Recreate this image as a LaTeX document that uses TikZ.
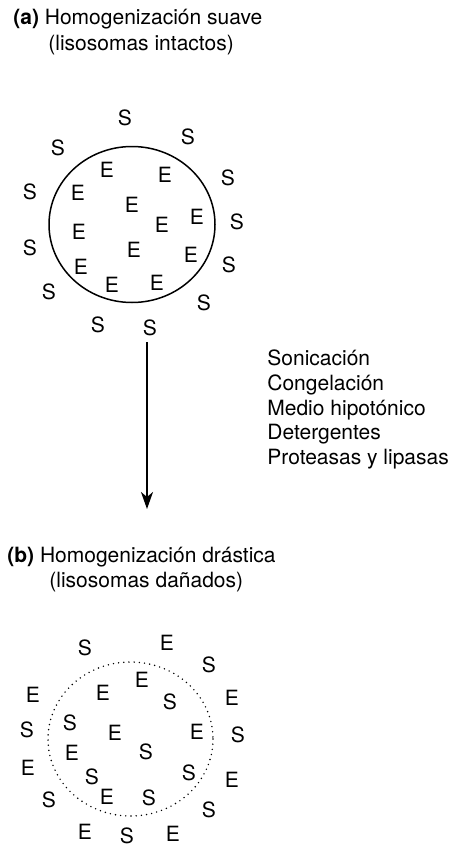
\documentclass[tikz,border=0pt]{standalone}
\usepackage{fontspec}
\setmainfont{TeX Gyre Heros}
\usetikzlibrary{arrows.meta, positioning}
\tikzstyle{texto} = [inner sep=0pt, anchor=base west, font=\fontsize{10.5}{12.5}\selectfont]
\tikzstyle{letra} = [inner sep=0pt, font=\fontsize{10.5}{12.5}\selectfont]
\tikzstyle{membrana} = [line width=0.75pt]
\tikzstyle{rota} = [line width=0.8pt, line cap=round, dash pattern=on 0pt off 2.6pt]
\tikzstyle{flecha} = [line width=0.85pt, -{Stealth[length=8.5pt, width=6pt, inset=2.5pt]}]

\begin{document}
\begin{tikzpicture}[x=0.5pt, y=-0.5pt]
    \useasboundingbox (0,0) rectangle (453,846);
    % (a) lisosomas intactos
    \node[texto] (tituloA) at (13,24.5) {\textbf{(a)} Homogenización suave};
    \node[texto] (subA) at (48,50) {(lisosomas intactos)};
    \draw[membrana] (132,224.5) ellipse [x radius=83, y radius=78];
    \foreach \x/\y [count=\i] in {125/118, 188/137, 58/148, 228/178, 30/192, 237/222,
        30/248, 229/265, 49/292, 204/303, 98/325, 150/328}
        \node[letra] (sA\i) at (\x,\y) {S};
    \foreach \x/\y [count=\i] in {107/170, 165/175, 78/193, 132/205, 197/217, 162/225,
        79/232, 134/250, 191/255, 81/267, 112/285, 157/283}
        \node[letra] (eA\i) at (\x,\y) {E};

    % tratamiento
    \coordinate (inicio) at (147,342);
    \coordinate (fin) at (147,509);
    \draw[flecha] (inicio) -- (fin);
    \foreach \t [count=\i] in {Sonicación, Congelación, Medio hipotónico, Detergentes, Proteasas y lipasas}
        \node[texto] (metodo\i) at (267,{340.75+24.75*\i}) {\t};

    % (b) lisosomas dañados
    \node[texto] (tituloB) at (7,562.5) {\textbf{(b)} Homogenización drástica};
    \node[texto] (subB) at (49,587) {(lisosomas dañados)};
    \draw[rota] (130.5,739) ellipse [x radius=82.5, y radius=77];
    \foreach \x/\y [count=\i] in {85/648, 209/665, 170/702, 70/723, 27/730, 238/735, 146/752,
        92/777, 189/773, 49/800, 149/798, 209/810, 127/836}
        \node[letra] (sB\i) at (\x,\y) {S};
    \foreach \x/\y [count=\i] in {167/643, 142/680, 103/693, 33/695, 232/698, 115/733, 197/732,
        72/753, 28/768, 232/780, 107/797, 85/832, 173/834}
        \node[letra] (eB\i) at (\x,\y) {E};
\end{tikzpicture}
\end{document}
